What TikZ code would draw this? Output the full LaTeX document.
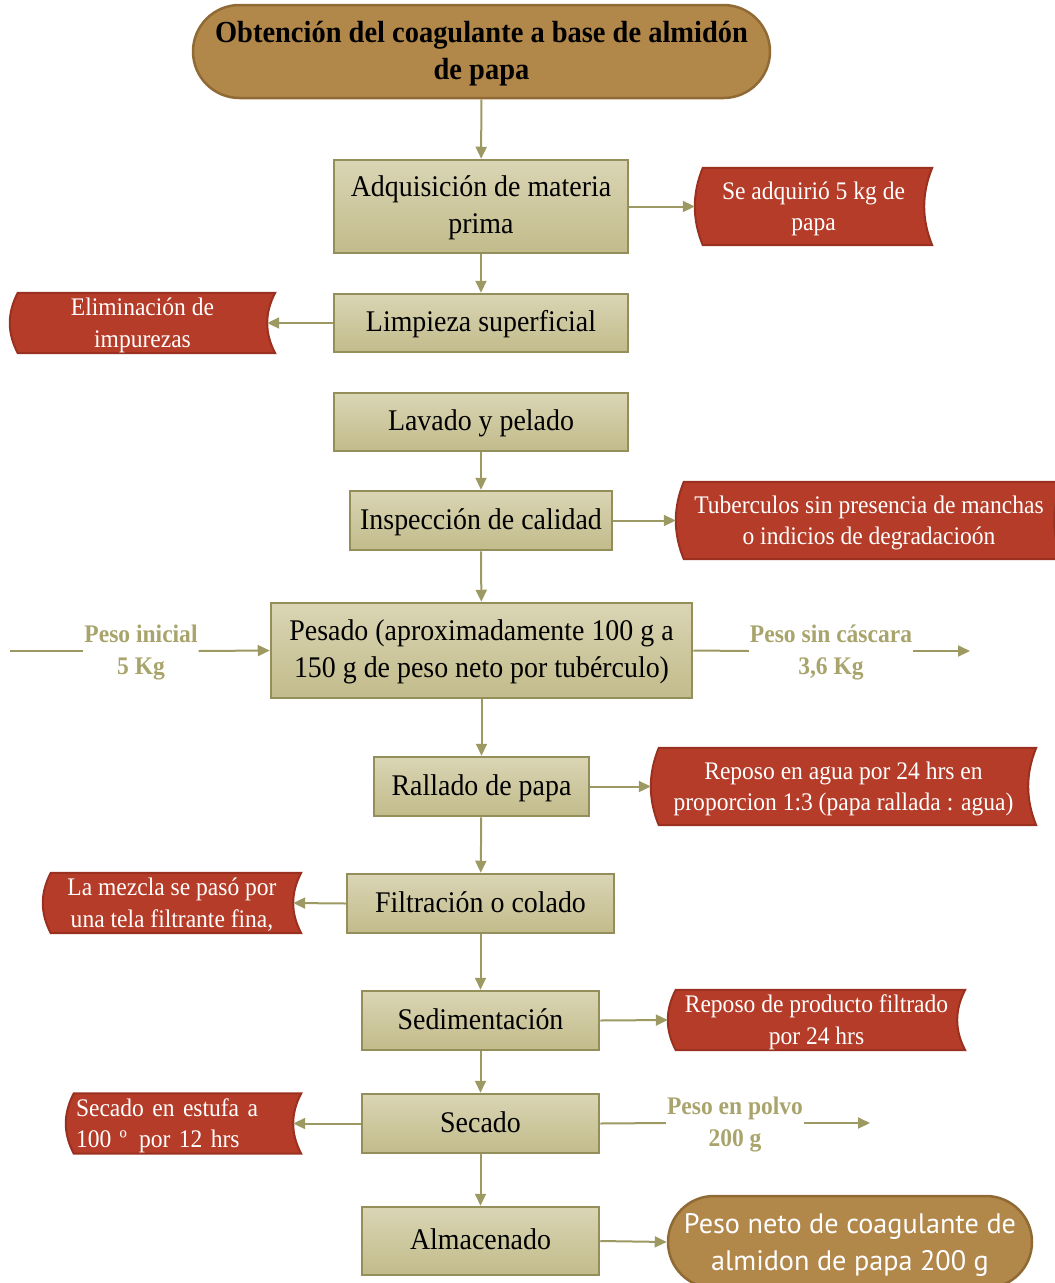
\documentclass[tikz,border=0pt]{standalone}
\usepackage{fontspec}
\setmainfont{Liberation Serif}[FakeStretch=0.93]
\newfontfamily\sansf{PT Sans}
\usetikzlibrary{arrows.meta,calc}
\pgfdeclarelayer{bg}
\pgfsetlayers{bg,main}
\definecolor{boxline}{HTML}{948F5A}
\definecolor{boxtop}{HTML}{DAD5B4}
\definecolor{boxbot}{HTML}{C2BB8B}
\definecolor{redfill}{HTML}{B53C28}
\definecolor{redline}{HTML}{9A301F}
\definecolor{brownfill}{HTML}{B2874A}
\definecolor{brownline}{HTML}{8F6A34}
\definecolor{arrowc}{HTML}{9C9963}
\definecolor{olivetext}{HTML}{A8A46C}
% struts: height on the first line, depth on the last line
\newcommand\myBtop{\rule{0pt}{28pt}}
\newcommand\myBbot{\rule[-10.5pt]{0pt}{10.5pt}}
\newcommand\myRtop{\rule{0pt}{22.7pt}}
\newcommand\myRbot{\rule[-5.7pt]{0pt}{5.7pt}}
\newcommand\myOtop{\rule{0pt}{23pt}}
\newcommand\myObot{\rule[-8pt]{0pt}{8pt}}
\newcommand\myTtop{\rule{0pt}{29pt}}
\newcommand\myTbot{\rule[-9.6pt]{0pt}{9.6pt}}
\newcommand\mySatop{\rule{0pt}{28pt}}
\newcommand\mySabot{\rule[-8.7pt]{0pt}{8.7pt}}
\tikzset{
 procbox/.style={draw=boxline, line width=2.5pt, top color=boxtop, bottom color=boxbot, inner sep=0pt, align=center, font=\fontsize{30}{37}\selectfont, text=black},
 redtxt/.style={inner sep=0pt, align=center, text=white, font=\fontsize{25.3}{31.5}\selectfont},
 redshape/.style={fill=redfill, draw=redline, line width=2pt},
 term/.style={draw=brownline, fill=brownfill, line width=2.5pt, inner sep=0pt, align=center},
 flow/.style={draw=arrowc, line width=2pt, -{Triangle[length=12pt,width=11pt]}},
 flowline/.style={draw=arrowc, line width=2pt},
 olivelab/.style={text=olivetext, font=\bfseries\fontsize{25.3}{31.5}\selectfont, align=center, inner sep=1pt},
}
\newcommand\storeshape[2][8]{%
 \begin{pgfonlayer}{bg}
 \path[redshape] ($(#2.north west)+(#1,0)$) -- (#2.north east)
   .. controls ($(#2.north east)!0.3333!(#2.south east)+({-4*#1/3},0)$)
   and ($(#2.north east)!0.6667!(#2.south east)+({-4*#1/3},0)$) .. (#2.south east)
   -- ($(#2.south west)+(#1,0)$)
   .. controls ($(#2.south west)!0.3333!(#2.north west)+({-#1/3},0)$)
   and ($(#2.south west)!0.6667!(#2.north west)+({-#1/3},0)$) .. ($(#2.north west)+(#1,0)$) -- cycle;
 \end{pgfonlayer}
 \coordinate (#2-in) at ($(#2.east)+(-#1,0)$);}
\begin{document}
\begin{tikzpicture}[x=1pt,y=-1pt]
\useasboundingbox (0,0) rectangle (1055,1283);
% terminals
\node[term, minimum width=577pt, minimum height=93pt, rounded corners=46.5pt, font=\bfseries\fontsize{30.6}{37.3}\selectfont] (T) at (481.5,51.5) {\myTtop Obtención del coagulante a base de almidón\\de papa\myTbot};
\node[term, minimum width=364pt, minimum height=92pt, rounded corners=46pt, text=white, font=\sansf\fontsize{28.2}{36.7}\selectfont] (B) at (850,1242) {\mySatop Peso neto de coagulante de\\almidon de papa 200 g\mySabot};
% process boxes
\node[procbox, minimum width=294pt, minimum height=93pt] (Adq) at (481,206.5) {\myBtop Adquisición de materia\\prima\myBbot};
\node[procbox, minimum width=294pt, minimum height=58pt] (Limp) at (481,323) {\myBtop Limpieza superficial\myBbot};
\node[procbox, minimum width=294pt, minimum height=58pt] (Lav) at (481,422) {\myBtop Lavado y pelado\myBbot};
\node[procbox, minimum width=262pt, minimum height=59pt] (Insp) at (481,520.5) {\myBtop Inspección de calidad\myBbot};
\node[procbox, minimum width=421pt, minimum height=95pt] (Pes) at (481.5,650.5) {\myBtop Pesado (aproximadamente 100 g a\\150 g de peso neto por tubérculo)\myBbot};
\node[procbox, minimum width=215pt, minimum height=59pt] (Rall) at (481.5,786.5) {\myBtop Rallado de papa\myBbot};
\node[procbox, minimum width=267pt, minimum height=59pt] (Filt) at (480.5,903.5) {\myBtop Filtración o colado\myBbot};
\node[procbox, minimum width=237pt, minimum height=59pt] (Sed) at (480.5,1020.5) {\myBtop Sedimentación\myBbot};
\node[procbox, minimum width=237pt, minimum height=59pt] (Sec) at (480.5,1123.5) {\myBtop Secado\myBbot};
\node[procbox, minimum width=237pt, minimum height=68pt] (Alm) at (480.5,1241) {\myBtop Almacenado\myBbot};
% red stored-data shapes
\node[redtxt, minimum width=237pt, minimum height=77pt] (R1) at (813.5,206.5) {\myRtop Se adquirió 5 kg de\\papa\myRbot};
\storeshape{R1}
\node[redtxt, minimum width=265pt, minimum height=60pt] (R2) at (142.5,323) {\myRtop Eliminación de\\impurezas\myRbot};
\storeshape{R2}
\node[redtxt, minimum width=386pt, minimum height=77pt] (R3) at (869,520.5) {\myRtop Tuberculos sin presencia de manchas\\o indicios de degradacioón\myRbot};
\storeshape{R3}
\node[redtxt, minimum width=385pt, minimum height=77pt] (R4) at (843.5,786.5) {\myRtop Reposo en agua por 24 hrs en\\proporcion 1:3 (papa rallada : agua)\myRbot};
\storeshape{R4}
\node[redtxt, minimum width=258pt, minimum height=60pt] (R5) at (172,903) {\myRtop La mezcla se pasó por\\una tela filtrante fina,\myRbot};
\storeshape{R5}
\node[redtxt, minimum width=297pt, minimum height=60pt] (R6) at (816.5,1020) {\myRtop Reposo de producto filtrado\\por 24 hrs\myRbot};
\storeshape{R6}
\node[redtxt, align=left, text width=215pt, inner xsep=10pt, minimum height=59pt] (R7) at (183.5,1123.5) {\myRtop Secado en estufa a\\100 º\hspace{12pt}por 12 hrs\myRbot};
\storeshape{R7}
% olive labels
\coordinate (pi0) at (10,651);
\node[olivelab] (PI) at (141,651) {\myOtop Peso inicial\\5 Kg\myObot};
\node[olivelab] (PS) at (831,651) {\myOtop Peso sin cáscara\\3,6 Kg\myObot};
\coordinate (ps1) at (970,651);
\node[olivelab] (PP) at (735,1123) {\myOtop Peso en polvo\\200 g\myObot};
\coordinate (pp1) at (870,1123);
% main flow
\draw[flow] (T) -- (Adq);
\draw[flow] (Adq) -- (Limp);
\draw[flow] (Lav) -- (Insp);
\draw[flow] (Insp) -- (Pes);
\draw[flow] (Pes) -- (Rall);
\draw[flow] (Rall) -- (Filt);
\draw[flow] (Filt) -- (Sed);
\draw[flow] (Sed) -- (Sec);
\draw[flow] (Sec) -- (Alm);
% side flows
\draw[flow] (Adq.east) -- (R1.west);
\draw[flow] (Limp.west) -- (R2-in);
\draw[flow] (Insp.east) -- (R3.west);
\draw[flow] (Rall.east) -- (R4.west);
\draw[flow] (Filt.west) -- (R5-in);
\draw[flow] (Sed.east) -- (R6.west);
\draw[flow] (Sec.west) -- (R7-in);
\draw[flow] (Alm.east) -- (B.west);
\draw[flowline] (pi0) -- (PI.west);
\draw[flow] (PI.east) -- (Pes.west);
\draw[flowline] (Pes.east) -- (PS.west);
\draw[flow] (PS.east) -- (ps1);
\draw[flowline] (Sec.east) -- (PP.west);
\draw[flow] (PP.east) -- (pp1);
\end{tikzpicture}
\end{document}
